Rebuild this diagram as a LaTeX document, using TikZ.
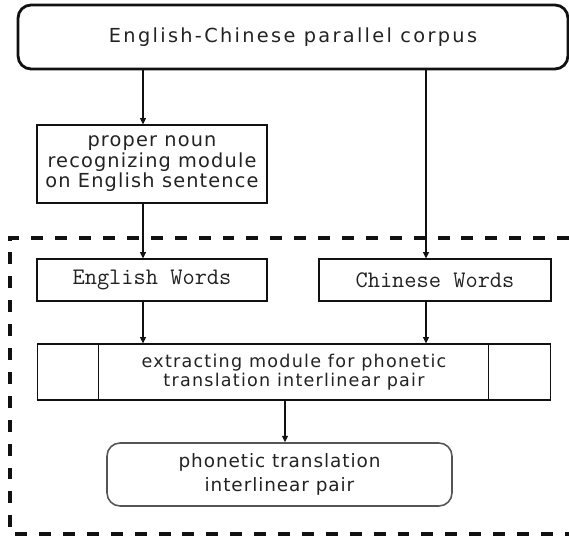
\documentclass[tikz,border=0pt]{standalone}
\usepackage{fontspec}
\setmainfont{DejaVu Sans}
\usetikzlibrary{arrows.meta}
\definecolor{ink}{HTML}{111111}
\definecolor{txt}{HTML}{222222}
\definecolor{soft}{HTML}{555555}
\tikzset{
  box/.style={draw=ink, line width=0.6pt, align=center, inner sep=0pt, text=txt},
  mono/.style={font=\ttfamily\fontsize{13.5}{15}\selectfont},
  top/.style={box, line width=1.6pt, rounded corners=0.26cm},
  res/.style={box, draw=soft, line width=0.9pt, rounded corners=0.26cm},
  arr/.style={draw=ink, line width=0.6pt, -{Triangle[width=3.4pt,length=3.6pt]}},
  frame/.style={draw=ink, line width=1.9pt, dash pattern=on 6.8pt off 6.8pt},
}

\begin{document}
\begin{tikzpicture}[x=0.02cm, y=-0.02cm]
  \useasboundingbox (0,0) rectangle (569,536);

  % boxes
  \node[top,font=\fontsize{11}{12}\selectfont\addfontfeature{LetterSpace=12},
    minimum width=11cm,minimum height=1.28cm] (corpus) at (293,37)
    {English-Chinese parallel corpus};
  \node[box,font=\fontsize{11}{11.7}\selectfont\addfontfeature{LetterSpace=6},
    minimum width=4.6cm,minimum height=1.56cm] (noun) at (152,164)
    {proper noun\\recognizing module\\on English sentence};
  \node[box,mono,minimum width=4.6cm,minimum height=0.84cm] (eng) at (152,280)
    {English Words};
  \node[box,mono,minimum width=4.64cm,minimum height=0.84cm] (chn) at (435,280)
    {Chinese Words};
  \node[box,font=\fontsize{10}{10.8}\selectfont\addfontfeature{LetterSpace=7},
    minimum width=10.28cm,minimum height=1.12cm] (ext) at (294,372)
    {extracting module for phonetic\\translation interlinear pair};
  \node[res,font=\fontsize{10.5}{14}\selectfont\addfontfeature{LetterSpace=5},
    minimum width=6.9cm,minimum height=1.26cm] (pair) at (279.5,474.5)
    {phonetic translation\\interlinear pair};

  % side cells of the extracting module
  \draw[box] ([xshift=1.24cm]ext.north west) -- ([xshift=1.24cm]ext.south west);
  \draw[box] ([xshift=-1.26cm]ext.north east) -- ([xshift=-1.26cm]ext.south east);

  % dashed frame round the extraction part
  \draw[frame] (569,238) -- (10,238) -- (10,534) -- (569,534);

  \coordinate (lx) at (143,0);
  \coordinate (rx) at (426,0);
  \coordinate (mx) at (285,0);
  \draw[arr] (corpus.south -| lx) -- (noun.north -| lx);
  \draw[arr] (noun.south -| lx) -- (eng.north -| lx);
  \draw[arr] (corpus.south -| rx) -- (chn.north -| rx);
  \draw[arr] (eng.south -| lx) -- (ext.north -| lx);
  \draw[arr] (chn.south -| rx) -- (ext.north -| rx);
  \draw[arr] (ext.south -| mx) -- (pair.north -| mx);
\end{tikzpicture}
\end{document}
